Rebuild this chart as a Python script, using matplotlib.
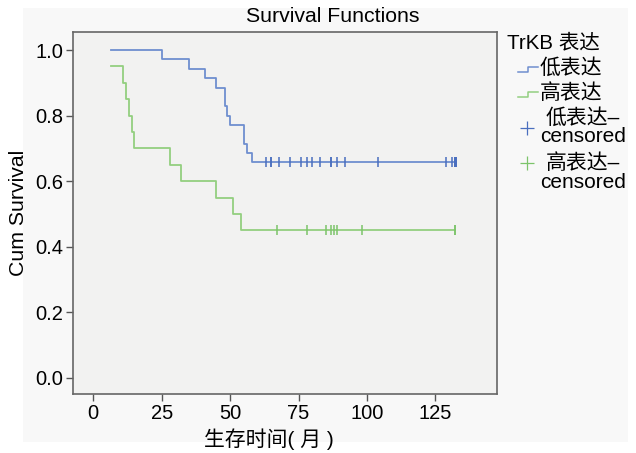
import matplotlib
matplotlib.use("Agg")
import matplotlib.pyplot as plt
from matplotlib.lines import Line2D
from matplotlib.patches import Rectangle
import numpy as np

plt.rcParams['font.family'] = ['Liberation Sans', 'Noto Sans CJK SC', 'DejaVu Sans']

# ---- data ----
start_time = 6.5
low_events = [25, 35, 41, 45, 48, 48, 49, 50, 55, 55, 56, 58]
low_censored = [63, 65, 65, 68, 72, 76, 78, 80, 83, 87, 87, 89, 92, 104,
                129, 131, 132, 132, 132, 132, 132.5, 132.5, 132.5]
high_events = [6.5, 11, 12, 13, 14, 15, 28, 32, 45, 51, 54]
high_censored = [67, 78, 85, 87, 88, 89, 98, 132, 132]

group_labels = ['低表达', '高表达']
censor_first = ['低表达–', '高表达–']
censor_second = 'censored'
legend_title = 'TrKB 表达'
x_label = '生存时间( 月 )'
y_label = 'Cum Survival'
title = 'Survival Functions'
x_ticks = [0, 25, 50, 75, 100, 125]
y_ticks = [0.0, 0.2, 0.4, 0.6, 0.8, 1.0]

line_colors = ['#6f8fcf', '#93cf80']
mark_colors = ['#4a6fbf', '#7cc46a']


def km_curve(events, censored, t0):
    events = np.array(events, float)
    censored = np.array(censored, float)
    all_t = np.concatenate([events, censored])
    uniq = np.unique(events)
    s = 1.0
    surv = {}
    for t in uniq:
        at_risk = np.sum(all_t >= t)
        d = np.sum(events == t)
        s *= (1 - d / at_risk)
        surv[t] = s

    def S(t):
        v = 1.0
        for tt in uniq:
            if tt <= t:
                v = surv[tt]
        return v
    xs = [t0]
    ys = [S(t0)]
    for t in uniq:
        if t <= t0:
            continue
        xs += [t, t]
        ys += [ys[-1], surv[t]]
    tmax = all_t.max()
    xs.append(tmax)
    ys.append(ys[-1])
    cy = [S(t) for t in censored]
    return xs, ys, censored, cy


fig = plt.figure(figsize=(6.36, 4.53), dpi=100)
fig.patch.set_facecolor('white')
fig.patches.append(Rectangle((23 / 636, 1 - 442 / 453), (628 - 23) / 636, (442 - 8) / 453,
                             transform=fig.transFigure, facecolor='#f8f8f8',
                             edgecolor='none', zorder=-10))

ax = fig.add_axes([73 / 636, 1 - 394 / 453, (497 - 73) / 636, (394 - 32) / 453])
ax.set_facecolor('#f2f2f1')

groups = [(low_events, low_censored), (high_events, high_censored)]
for i, (ev, ce) in enumerate(groups):
    xs, ys, cx, cy = km_curve(ev, ce, start_time)
    ax.plot(xs, ys, color=line_colors[i], lw=1.3)
    ax.plot(cx, cy, linestyle='none', marker='|', markersize=6.5, mew=1.1,
            color=mark_colors[i])

ax.set_xlim(-7.4, 147.5)
ax.set_ylim(-0.049, 1.055)
ax.set_xticks(x_ticks)
ax.set_yticks(y_ticks)
ax.set_yticklabels([f'{v:.1f}' for v in y_ticks])
ax.tick_params(direction='out', length=5, width=1, color='#555555', labelsize=14.5,
               pad=2)
for sp in ax.spines.values():
    sp.set_color('#666666')
    sp.set_linewidth(1.2)

fig.text(333 / 636, 1 - 17 / 453, title, ha='center', va='center', fontsize=15.3)
fig.text(269 / 636, 1 - 439 / 453, x_label, ha='center', va='center', fontsize=15)
fig.text(19 / 636, 1 - 213 / 453, y_label, ha='center', va='center',
         rotation=90, fontsize=15.3)


# ---- legend (manual, SPSS style) ----
def fx(px):
    return px / 636


def fy(py):
    return 1 - py / 453


fig.text(fx(507), fy(43), legend_title, ha='left', va='center', fontsize=14.8)
step_y = [69, 94.5]
text_y = [68, 93]
for i in range(2):
    lo = step_y[i] + 2.5
    hi = step_y[i] - 2.5
    fig.lines.append(Line2D([fx(518), fx(528), fx(528), fx(538)],
                            [fy(lo), fy(lo), fy(hi), fy(hi)],
                            transform=fig.transFigure, color=line_colors[i], lw=1.1))
    fig.text(fx(540), fy(text_y[i]), group_labels[i], ha='left', va='center',
             fontsize=15)

cens_y = [128, 163]
first_y = [118, 163]
second_y = [137, 182]
for i in range(2):
    fig.lines.append(Line2D([fx(527)], [fy(cens_y[i])], transform=fig.transFigure,
                            marker='+', markersize=10, mew=0.9,
                            color=mark_colors[i], linestyle='none'))
    fig.text(fx(546), fy(first_y[i]), censor_first[i], ha='left', va='center',
             fontsize=15)
    fig.text(fx(540), fy(second_y[i]), censor_second, ha='left', va='center',
             fontsize=15)

fig.savefig('out.png', dpi=100)
